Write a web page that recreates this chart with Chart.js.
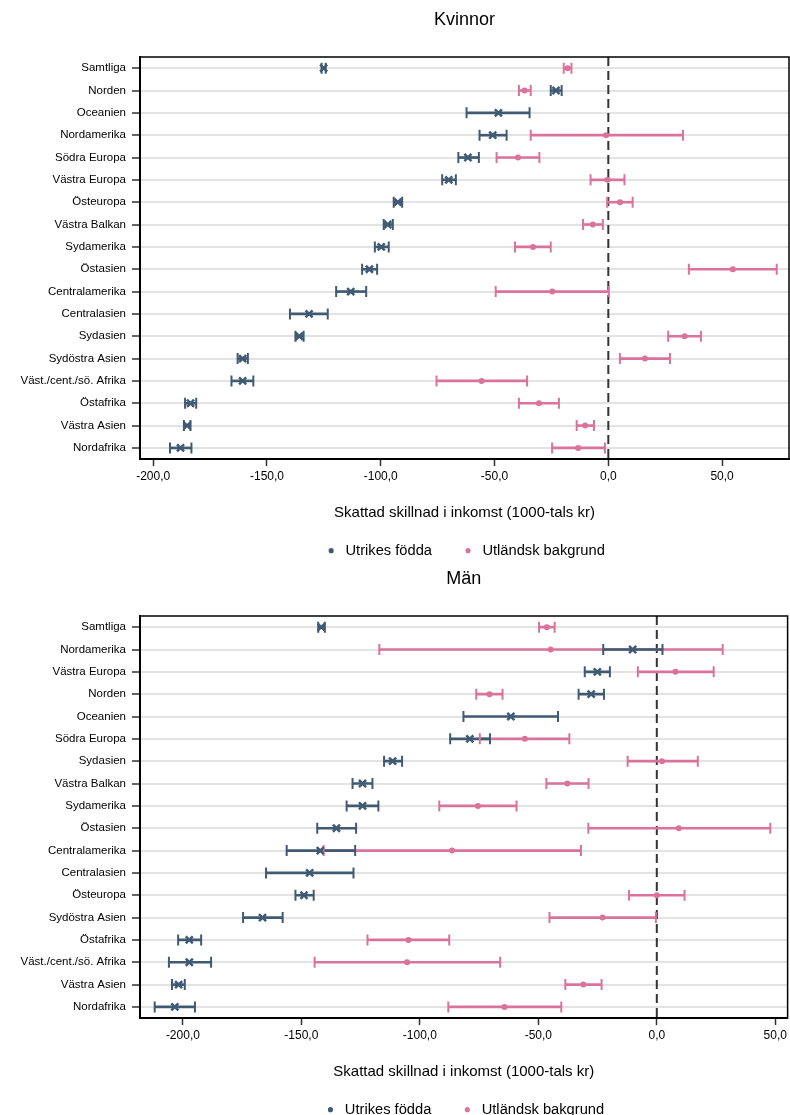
<!DOCTYPE html>
<html>
<head>
<meta charset="utf-8">
<script src="https://cdn.jsdelivr.net/npm/chart.js@4/dist/chart.umd.min.js"></script>
<style>
  html, body { margin: 0; padding: 0; background: #fff; overflow: hidden; }
  .box { position: absolute; left: 0; width: 790px; }
  #top { top: 0; height: 558px; }
  #bottom { top: 559px; height: 558px; }
</style>
</head>
<body>
<div class="box" id="top"><canvas id="kvChart"></canvas></div>
<div class="box" id="bottom"><canvas id="manChart"></canvas></div>
<script>
const legendNames = ['Utrikes födda', 'Utländsk bakgrund'];
const xTickValues = [-200, -150, -100, -50, 0, 50];

// Kvinnor
const kvLabels = ['Samtliga', 'Norden', 'Oceanien', 'Nordamerika', 'Södra Europa', 'Västra Europa', 'Östeuropa',
  'Västra Balkan', 'Sydamerika', 'Östasien', 'Centralamerika', 'Centralasien', 'Sydasien', 'Sydöstra Asien',
  'Väst./cent./sö. Afrika', 'Östafrika', 'Västra Asien', 'Nordafrika'];
const kvBornEst = [-125.1, -23.0, -48.3, -50.8, -61.7, -70.1, -92.5, -96.9, -99.8, -105.0, -113.2, -131.5, -135.8, -160.7, -160.7, -183.6, -185.1, -188.0];
const kvBornLo  = [-126.0, -25.3, -62.3, -56.6, -65.9, -73.0, -94.3, -98.7, -102.6, -108.2, -119.6, -139.9, -137.5, -162.9, -165.6, -186.0, -186.5, -192.6];
const kvBornHi  = [-124.2, -20.5, -34.6, -44.7, -56.9, -67.0, -90.6, -94.7, -96.5, -101.6, -106.4, -123.3, -133.9, -158.4, -156.0, -181.1, -183.6, -183.2];
const kvBgEst = [-17.9, -36.8, null, -1.0, -39.7, -0.4, 5.1, -6.8, -33.1, 54.7, -24.6, null, 33.5, 16.1, -55.7, -30.5, -10.2, -13.3];
const kvBgLo  = [-19.6, -39.3, null, -34.1, -49.1, -7.8, -0.5, -11.1, -41.0, 35.4, -49.5, null, 26.3, 5.1, -75.5, -39.3, -13.9, -24.7];
const kvBgHi  = [-16.2, -34.1, null, 32.8, -30.3, 7.1, 10.7, -2.4, -25.3, 74.0, 0.2, null, 40.7, 27.1, -35.7, -21.7, -6.3, -1.5];

// Män
const manLabels = ['Samtliga', 'Nordamerika', 'Västra Europa', 'Norden', 'Oceanien', 'Södra Europa', 'Sydasien',
  'Västra Balkan', 'Sydamerika', 'Östasien', 'Centralamerika', 'Centralasien', 'Östeuropa', 'Sydöstra Asien',
  'Östafrika', 'Väst./cent./sö. Afrika', 'Västra Asien', 'Nordafrika'];
const manBornEst = [-141.6, -10.2, -25.1, -27.7, -61.6, -78.9, -111.5, -124.2, -124.2, -135.2, -142.0, -146.5, -148.9, -166.4, -197.3, -197.3, -201.8, -203.4];
const manBornLo  = [-142.9, -22.6, -30.4, -33.0, -81.6, -87.2, -115.1, -128.4, -130.9, -143.3, -156.2, -164.9, -152.5, -174.6, -202.0, -205.9, -204.6, -211.9];
const manBornHi  = [-140.1, 2.4, -19.8, -22.3, -41.7, -70.4, -107.5, -120.0, -117.5, -126.9, -127.3, -128.0, -144.8, -157.9, -192.3, -188.1, -199.2, -194.9];
const manBgEst = [-46.4, -44.8, 7.9, -70.6, null, -55.7, 2.2, -37.8, -75.5, 9.3, -86.4, null, 0.0, -22.9, -104.8, -105.4, -31.0, -64.3];
const manBgLo  = [-49.7, -117.1, -8.0, -76.2, null, -74.7, -12.3, -46.6, -91.8, -28.9, -140.6, null, -11.7, -45.3, -122.1, -144.4, -38.6, -88.0];
const manBgHi  = [-43.1, 27.8, 24.0, -65.1, null, -36.9, 17.3, -28.8, -59.2, 47.9, -32.0, null, 11.7, -0.4, -87.6, -66.1, -23.3, -40.3];

const BLUE = '#3f5a72';
const PINK = '#d9739b';
const FONT = '"Liberation Sans", Arial, sans-serif';

// dashed zero line and outer frame
const framePlugin = {
  id: 'frame',
  beforeDatasetsDraw(chart) {
    const { ctx, chartArea: a, scales: { x } } = chart;
    const x0 = x.getPixelForValue(0);
    ctx.save();
    ctx.strokeStyle = '#333';
    ctx.lineWidth = 2;
    ctx.setLineDash([9, 5]);
    ctx.beginPath();
    ctx.moveTo(x0, a.top);
    ctx.lineTo(x0, a.bottom);
    ctx.stroke();
    ctx.restore();
  },
  afterDraw(chart) {
    const { ctx, chartArea: a } = chart;
    ctx.save();
    ctx.strokeStyle = '#000';
    ctx.lineWidth = 1.5;
    ctx.strokeRect(a.left, a.top, a.right - a.left, a.bottom - a.top);
    ctx.restore();
  }
};

function pts(labels, vals) {
  return vals.map((v, i) => v === null ? null : { x: v, y: labels[i] }).filter(p => p);
}

function makeChart(id, title, labels, bornEst, bornLo, bornHi, bgEst, bgLo, bgHi, xMin, xMax) {
  new Chart(document.getElementById(id), {
    type: 'bar',
    data: {
      labels,
      datasets: [
        { type: 'line', label: legendNames[0], data: pts(labels, bornEst), showLine: false,
          pointStyle: 'crossRot', pointRadius: 5, pointBorderWidth: 2.5,
          borderColor: BLUE, backgroundColor: BLUE, order: 0 },
        { type: 'line', label: legendNames[1], data: pts(labels, bgEst), showLine: false,
          pointStyle: 'circle', pointRadius: 3, pointBorderWidth: 0,
          borderColor: PINK, backgroundColor: PINK, order: 1 },
        { type: 'line', data: pts(labels, bornLo).concat(pts(labels, bornHi)), showLine: false,
          pointStyle: 'line', pointRotation: 90, pointRadius: 5.5, pointBorderWidth: 2,
          borderColor: BLUE, backgroundColor: BLUE, order: 2 },
        { type: 'line', data: pts(labels, bgLo).concat(pts(labels, bgHi)), showLine: false,
          pointStyle: 'line', pointRotation: 90, pointRadius: 5.5, pointBorderWidth: 2,
          borderColor: PINK, backgroundColor: PINK, order: 3 },
        { data: bornLo.map((v, i) => [v, bornHi[i]]), backgroundColor: BLUE,
          barThickness: 2, grouped: false, order: 4 },
        { data: bgLo.map((v, i) => v === null ? null : [v, bgHi[i]]), backgroundColor: PINK,
          barThickness: 2, grouped: false, order: 5 }
      ]
    },
    options: {
      indexAxis: 'y',
      responsive: true,
      maintainAspectRatio: false,
      animation: false,
      events: [],
      layout: { autoPadding: false, padding: { left: 0, right: 1, top: 0, bottom: -10 } },
      plugins: {
        title: {
          display: true, text: title, fullSize: false, color: '#000',
          font: { family: FONT, size: 18, weight: 'normal' },
          padding: { top: 9.2, bottom: 26.2 }
        },
        legend: {
          position: 'bottom', fullSize: false,
          labels: {
            usePointStyle: true, boxWidth: 14, boxHeight: 3.6, padding: 29,
            color: '#000', font: { family: FONT, size: 14.7 },
            generateLabels: () => [
              { text: legendNames[0], fillStyle: BLUE, strokeStyle: BLUE, lineWidth: 0, pointStyle: 'circle', hidden: false, datasetIndex: 0 },
              { text: legendNames[1], fillStyle: PINK, strokeStyle: PINK, lineWidth: 0, pointStyle: 'circle', hidden: false, datasetIndex: 1 }
            ]
          }
        },
        tooltip: { enabled: false }
      },
      scales: {
        y: {
          type: 'category',
          offset: true,
          afterFit: s => { s.width = 140; },
          grid: { offset: false, color: '#e3e3e3', lineWidth: 2, tickLength: 8, tickColor: '#333', tickWidth: 1.5 },
          border: { color: '#000', width: 2 },
          ticks: { color: '#000', padding: 6, font: { family: FONT, size: 11.5 } }
        },
        x: {
          type: 'linear',
          min: xMin,
          max: xMax,
          afterBuildTicks: s => { s.ticks = xTickValues.map(v => ({ value: v })); },
          grid: { drawOnChartArea: false, tickLength: 7, tickColor: '#333', tickWidth: 1.5 },
          border: { color: '#000', width: 2 },
          ticks: {
            color: '#000', padding: 3, maxRotation: 0, font: { family: FONT, size: 12 },
            callback: v => v.toFixed(1).replace('.', ',')
          },
          title: {
            display: true, text: 'Skattad skillnad i inkomst (1000-tals kr)', color: '#000',
            font: { family: FONT, size: 15 }, padding: { top: 17.6, bottom: -7.8 }
          }
        }
      }
    },
    plugins: [framePlugin]
  });
}

makeChart('kvChart', 'Kvinnor', kvLabels, kvBornEst, kvBornLo, kvBornHi, kvBgEst, kvBgLo, kvBgHi, -205.8, 79.4);
makeChart('manChart', 'Män', manLabels, manBornEst, manBornLo, manBornHi, manBgEst, manBgLo, manBgHi, -218.1, 55.2);
</script>
</body>
</html>
